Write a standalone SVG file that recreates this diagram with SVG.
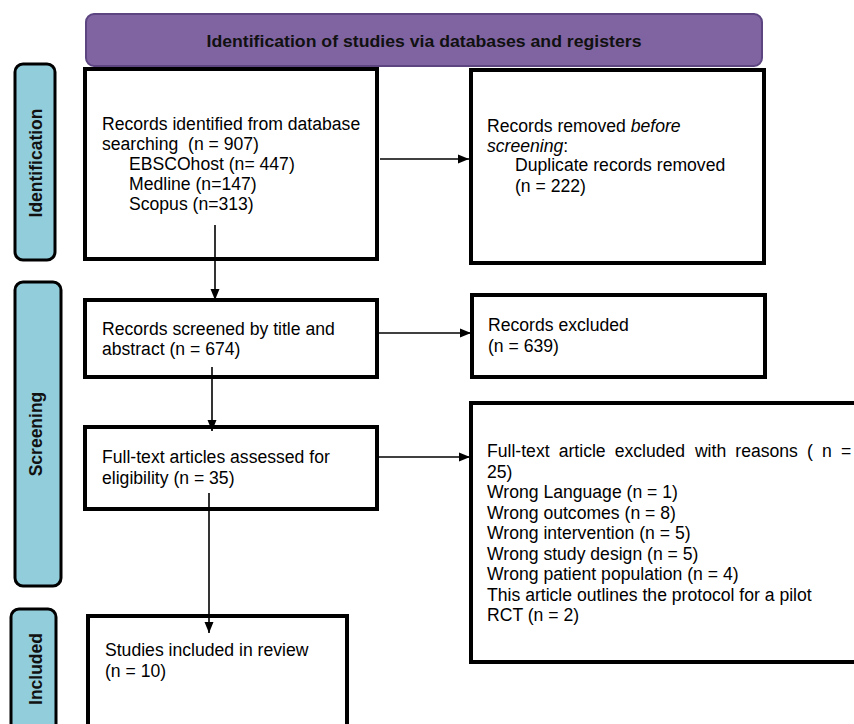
<svg xmlns="http://www.w3.org/2000/svg" width="854" height="724" viewBox="0 0 854 724">
<defs>
<marker id="ah" markerUnits="userSpaceOnUse" markerWidth="12" markerHeight="12" viewBox="0 0 12 12" refX="11" refY="6" orient="auto">
<path d="M0,1.5 L11,6 L0,10.5 Z" fill="#000"/>
</marker>
<style>
.box{fill:#fff;stroke:#000;stroke-width:4}
.side{fill:#92cddc;stroke:#000;stroke-width:3}
.t{font-family:"Liberation Sans",Arial,sans-serif;font-size:17.6px;fill:#000}
.lbl{font-family:"Liberation Sans",Arial,sans-serif;font-size:17.5px;font-weight:bold;fill:#111;text-anchor:middle}
.con{stroke:#000;stroke-width:1.6;fill:none;marker-end:url(#ah)}
</style>
</defs>
<rect width="854" height="724" fill="#fff"/>

<g id="header">
<rect x="86" y="14" width="676" height="52" rx="8" fill="#8064a2" stroke="#5c4580" stroke-width="2"/>
<text x="424" y="47" class="lbl" style="font-size:17px;fill:#111" textLength="435" lengthAdjust="spacingAndGlyphs">Identification of studies via databases and registers</text>
</g>

<g id="side-identification">
<rect class="side" x="15" y="64" width="40" height="196" rx="8"/>
<text class="lbl" transform="translate(42,163) rotate(-90)">Identification</text>
</g>
<g id="side-screening">
<rect class="side" x="15" y="282" width="46" height="304" rx="8"/>
<text class="lbl" transform="translate(42,434) rotate(-90)">Screening</text>
</g>
<g id="side-included">
<rect class="side" x="11" y="609" width="45" height="130" rx="8"/>
<text class="lbl" transform="translate(42,669) rotate(-90)">Included</text>
</g>

<g id="records-identified">
<rect class="box" x="85" y="69" width="292" height="190"/>
<text class="t"><tspan x="102" y="130">Records identified from database</tspan><tspan x="102" y="150">searching&#160; (n = 907)</tspan><tspan x="129" y="170">EBSCOhost (n= 447)</tspan><tspan x="129" y="190">Medline (n=147)</tspan><tspan x="129" y="210">Scopus (n=313)</tspan></text>
</g>

<g id="records-removed">
<rect class="box" x="471" y="70" width="293" height="193"/>
<text class="t"><tspan x="487" y="132">Records removed <tspan font-style="italic">before</tspan></tspan><tspan x="487" y="152" font-style="italic">screening</tspan><tspan>:</tspan><tspan x="515" y="171">Duplicate records removed</tspan><tspan x="515" y="192">(n = 222)</tspan></text>
</g>

<g id="records-screened">
<rect class="box" x="85" y="300" width="292" height="77"/>
<text class="t"><tspan x="102" y="335">Records screened by title and</tspan><tspan x="102" y="355">abstract (n = 674)</tspan></text>
</g>

<g id="records-excluded">
<rect class="box" x="472" y="295" width="293" height="82"/>
<text class="t"><tspan x="488" y="331">Records excluded</tspan><tspan x="488" y="352">(n = 639)</tspan></text>
</g>

<g id="fulltext-assessed">
<rect class="box" x="85" y="427" width="292" height="82"/>
<text class="t"><tspan x="102" y="463">Full-text articles assessed for</tspan><tspan x="102" y="484">eligibility (n = 35)</tspan></text>
</g>

<g id="fulltext-excluded">
<rect class="box" x="471" y="403" width="400" height="259"/>
<text class="t"><tspan x="487" y="457">Full-text</tspan><tspan x="558.7" y="457">article</tspan><tspan x="614.7" y="457">excluded</tspan><tspan x="694.9" y="457">with</tspan><tspan x="735.3" y="457">reasons</tspan><tspan x="807" y="457">(</tspan><tspan x="822" y="457">n</tspan><tspan x="840.9" y="457">=</tspan><tspan x="487" y="477.5">25)</tspan><tspan x="487" y="498">Wrong Language (n = 1)</tspan><tspan x="487" y="518.5">Wrong outcomes (n = 8)</tspan><tspan x="487" y="539">Wrong intervention (n = 5)</tspan><tspan x="487" y="559.5">Wrong study design (n = 5)</tspan><tspan x="487" y="580">Wrong patient population (n = 4)</tspan><tspan x="487" y="600.5">This article outlines the protocol for a pilot</tspan><tspan x="487" y="621">RCT (n = 2)</tspan></text>
</g>

<g id="studies-included">
<rect class="box" x="88" y="616" width="259" height="130"/>
<text class="t"><tspan x="105" y="656">Studies included in review</tspan><tspan x="105" y="677">(n = 10)</tspan></text>
</g>

<g id="connectors">
<line class="con" x1="380" y1="159" x2="469" y2="159"/>
<line class="con" x1="215" y1="225" x2="215" y2="300"/>
<line class="con" x1="378" y1="333" x2="471" y2="333"/>
<line class="con" x1="212" y1="367" x2="212" y2="431"/>
<line class="con" x1="378" y1="457" x2="470" y2="457"/>
<line class="con" x1="209" y1="493" x2="209" y2="633"/>
</g>
</svg>
